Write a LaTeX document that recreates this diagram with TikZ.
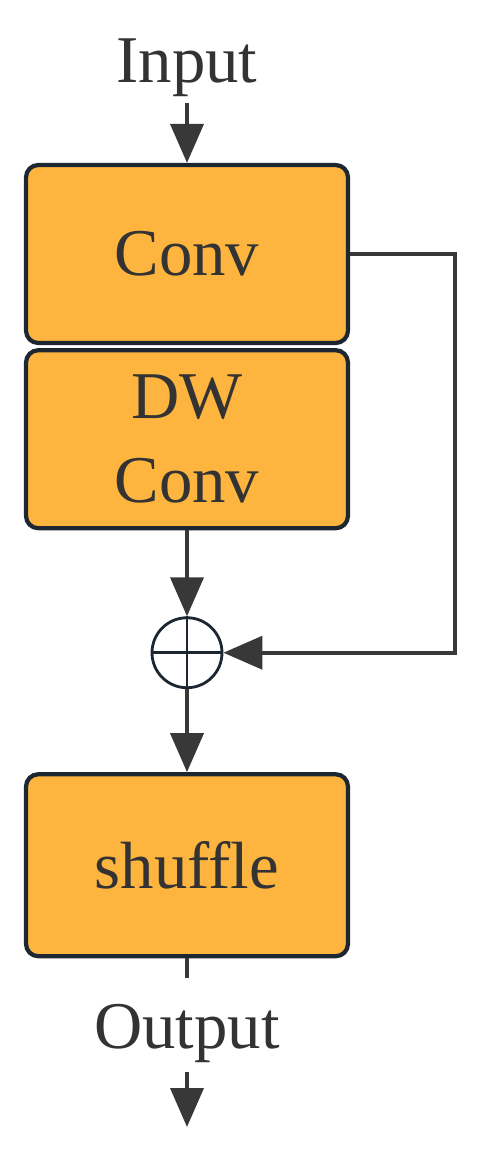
\documentclass[tikz,border=0pt]{standalone}
\usepackage{fontspec}
\setmainfont{Liberation Serif}
\usetikzlibrary{arrows.meta, positioning}
\definecolor{blkorange}{HTML}{FDB53F}
\definecolor{blkedge}{HTML}{1C2732}
\definecolor{lineg}{HTML}{383838}
\definecolor{txtg}{HTML}{333333}

\begin{document}
\begin{tikzpicture}[
  block/.style={rectangle, rounded corners=7pt, draw=blkedge, line width=2.4pt, fill=blkorange, minimum width=6.44cm, minimum height=3.56cm, align=center, text=txtg, font=\fontsize{38}{48}\selectfont},
  label/.style={text=txtg, font=\fontsize{38}{44}\selectfont, inner sep=0pt},
  conn/.style={draw=lineg, line width=2.2pt},
  arr/.style={conn, -{Triangle[length=0.78cm, width=0.66cm]}},
  adder/.style={circle, draw=blkedge, line width=1.6pt, minimum size=1.4cm, inner sep=0pt},
]
\useasboundingbox (0,0) rectangle (9.6,-23.12);

\node[label, anchor=base] (input) at (3.74,-1.64) {Input};
\coordinate (instart) at (3.74,-2.06);

\node[block] (conv) at (3.74,-5.08) {Conv};
\node[block, below=0.06cm of conv] (dwconv) {DW\\Conv};
\node[adder, below=1.72cm of dwconv] (plus) {};
\node[block, below=1.66cm of plus, minimum height=3.64cm] (shuffle) {shuffle};

\node[label, anchor=base] (output) at (3.74,-20.96) {Output};
\coordinate (tickend) at (3.74,-19.56);
\coordinate (outstart) at (3.74,-21.44);
\coordinate (outend) at (3.74,-22.54);

% plus sign
\draw[blkedge, line width=1.6pt] (plus.north) -- (plus.south) (plus.west) -- (plus.east);

% main path
\draw[arr] (instart) -- (conv.north);
\draw[arr] (dwconv.south) -- (plus.north);
\draw[arr] (plus.south) -- (shuffle.north);
\draw[conn] (shuffle.south) -- (tickend);
\draw[arr] (outstart) -- (outend);

% skip
\draw[arr] (conv.east) -- ++(2.1,0) |- (plus.east);
\end{tikzpicture}
\end{document}
